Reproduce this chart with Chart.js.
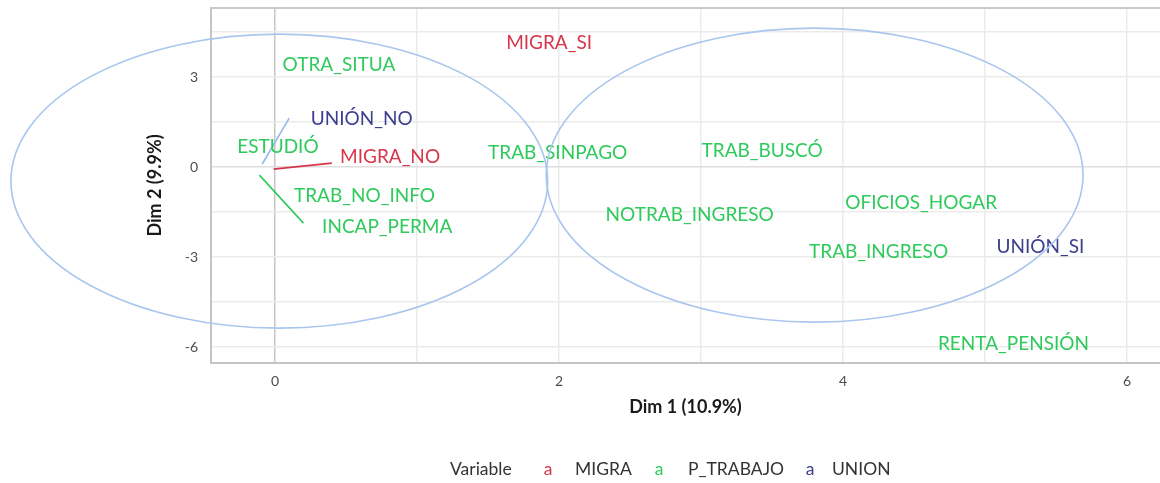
<!DOCTYPE html>
<html>
<head>
<meta charset="utf-8">
<script src="https://cdn.jsdelivr.net/npm/chart.js@4"></script>
<style>
  html, body { margin: 0; padding: 0; background: #fff; }
  canvas { display: block; }
</style>
</head>
<body>
<canvas id="mcaChart" width="1160" height="483"></canvas>
<script>
// categories and their label coordinates (Dim 1 / Dim 2)
const categories = ['OTRA_SITUA', 'MIGRA_SI', 'UNIÓN_NO', 'ESTUDIÓ', 'MIGRA_NO', 'TRAB_SINPAGO', 'TRAB_BUSCÓ',
    'TRAB_NO_INFO', 'INCAP_PERMA', 'NOTRAB_INGRESO', 'OFICIOS_HOGAR', 'TRAB_INGRESO', 'UNIÓN_SI', 'RENTA_PENSIÓN'];
const variables = ['P_TRABAJO', 'MIGRA', 'UNION', 'P_TRABAJO', 'MIGRA', 'P_TRABAJO', 'P_TRABAJO',
    'P_TRABAJO', 'P_TRABAJO', 'P_TRABAJO', 'P_TRABAJO', 'P_TRABAJO', 'UNION', 'P_TRABAJO'];
const dim1 = [0.45, 1.93, 0.61, 0.02, 0.81, 1.99, 3.43, 0.63, 0.79, 2.92, 4.55, 4.25, 5.39, 5.20];
const dim2 = [3.40, 4.13, 1.60, 0.67, 0.33, 0.47, 0.53, -0.97, -2.00, -1.60, -1.20, -2.83, -2.67, -5.90];

// repel connector segments (point -> label)
const segColor = ['#93b9f0', '#d8364a', '#2fca5c'];
const segFrom = [[-0.09, 0.10], [-0.01, -0.07], [-0.11, -0.27]];
const segTo = [[0.10, 1.63], [0.40, 0.13], [0.20, -1.87]];

// cluster ellipses: centre and radii in data units
const ellipseCx = [0.03, 3.80];
const ellipseCy = [-0.47, -0.27];
const ellipseRx = [1.89, 1.89];
const ellipseRy = [4.90, 4.90];

const legendVars = ['MIGRA', 'P_TRABAJO', 'UNION'];
const xTicks = [0, 1, 2, 3, 4, 5, 6];
const yTicks = [-6, -4.5, -3, -1.5, 0, 1.5, 3, 4.5];

const colors = { MIGRA: '#d8364a', P_TRABAJO: '#2fca5c', UNION: '#3e3e8e' };
const FONT = 'Lato';

const mcaPlugin = {
    id: 'mcaPlugin',
    afterDatasetsDraw(chart) {
        const { ctx, chartArea, scales } = chart;
        // labels
        const meta = chart.getDatasetMeta(0);
        ctx.save();
        ctx.font = '19px ' + FONT;
        ctx.textAlign = 'center';
        ctx.textBaseline = 'middle';
        meta.data.forEach((el, i) => {
            ctx.fillStyle = colors[variables[i]];
            ctx.fillText(categories[i], el.x, el.y);
        });
        ctx.restore();

        // top border of panel
        ctx.save();
        ctx.strokeStyle = '#c8c8c8';
        ctx.lineWidth = 2;
        ctx.beginPath();
        ctx.moveTo(chartArea.left, chartArea.top);
        ctx.lineTo(chartArea.right, chartArea.top);
        ctx.stroke();
        ctx.restore();

        // ellipses (not clipped, as in the original)
        ctx.save();
        ctx.strokeStyle = '#a9c6ee';
        ctx.lineWidth = 1.6;
        ellipseCx.forEach((cx, i) => {
            const px = scales.x.getPixelForValue(cx);
            const py = scales.y.getPixelForValue(ellipseCy[i]);
            const rx = Math.abs(scales.x.getPixelForValue(cx + ellipseRx[i]) - px);
            const ry = Math.abs(scales.y.getPixelForValue(ellipseCy[i] + ellipseRy[i]) - py);
            ctx.beginPath();
            ctx.ellipse(px, py, rx, ry, 0, 0, Math.PI * 2);
            ctx.stroke();
        });
        ctx.restore();
    },
    afterDraw(chart) {
        const { ctx } = chart;
        ctx.save();
        ctx.textBaseline = 'middle';
        ctx.font = '17.5px ' + FONT;
        ctx.fillStyle = '#333';
        ctx.textAlign = 'left';
        const y = 469;
        ctx.fillText('Variable', 450, y);
        const keyX = [548, 659, 810];
        const textX = [575, 688, 832];
        legendVars.forEach((v, i) => {
            ctx.fillStyle = colors[v];
            ctx.textAlign = 'center';
            ctx.fillText('a', keyX[i], y);
            ctx.fillStyle = '#333';
            ctx.textAlign = 'left';
            ctx.fillText(v, textX[i], y);
        });
        ctx.restore();
    }
};

const segmentDatasets = segFrom.map((from, i) => ({
    type: 'scatter',
    data: [{ x: from[0], y: from[1] }, { x: segTo[i][0], y: segTo[i][1] }],
    showLine: true,
    borderColor: segColor[i],
    borderWidth: 1.6,
    pointRadius: 0
}));

const chartEl = document.getElementById('mcaChart');
new Chart(chartEl, {
    type: 'scatter',
    data: {
        datasets: [{
            data: categories.map((c, i) => ({ x: dim1[i], y: dim2[i] })),
            pointRadius: 0
        }, ...segmentDatasets]
    },
    options: {
        responsive: false,
        animation: false,
        layout: { padding: { top: 8, left: 140, right: 0, bottom: 65 } },
        plugins: { legend: { display: false }, tooltip: { enabled: false } },
        scales: {
            x: {
                type: 'linear',
                min: -0.451,
                max: 6.232,
                afterBuildTicks: s => { s.ticks = xTicks.map(v => ({ value: v })); },
                afterFit: s => { s.height = 55; s.paddingLeft = 0; s.paddingRight = 0; },
                ticks: {
                    padding: 10,
                    color: '#4d4d4d',
                    font: { family: FONT, size: 14 },
                    callback: v => (v % 2 === 0 ? v : '')
                },
                grid: {
                    drawTicks: false,
                    lineWidth: 1.5,
                    color: c => (c.tick && c.tick.value === 0 ? '#c6c6c6' : '#ebebeb')
                },
                border: { display: true, color: '#c4c4c4', width: 2 },
                title: {
                    display: true,
                    text: 'Dim 1 (10.9%)',
                    color: '#1a1a1a',
                    font: { family: FONT, size: 18, weight: 'bold' },
                    padding: { top: 0, bottom: 0 }
                }
            },
            y: {
                type: 'linear',
                min: -6.533,
                max: 5.3,
                afterBuildTicks: s => { s.ticks = yTicks.map(v => ({ value: v })); },
                afterFit: s => { s.width = 71; s.paddingTop = 0; s.paddingBottom = 0; },
                ticks: {
                    padding: 13,
                    color: '#4d4d4d',
                    font: { family: FONT, size: 14 },
                    callback: v => (v % 3 === 0 ? v : '')
                },
                grid: {
                    drawTicks: false,
                    lineWidth: 1.5,
                    color: c => (c.tick && c.tick.value === 0 ? '#dedede' : '#ebebeb')
                },
                border: { display: true, color: '#c4c4c4', width: 2 },
                title: {
                    display: true,
                    text: 'Dim 2 (9.9%)',
                    color: '#1a1a1a',
                    font: { family: FONT, size: 18, weight: 'bold' },
                    padding: { top: 4, bottom: 0 }
                }
            }
        }
    },
    plugins: [mcaPlugin]
});
</script>
</body>
</html>
